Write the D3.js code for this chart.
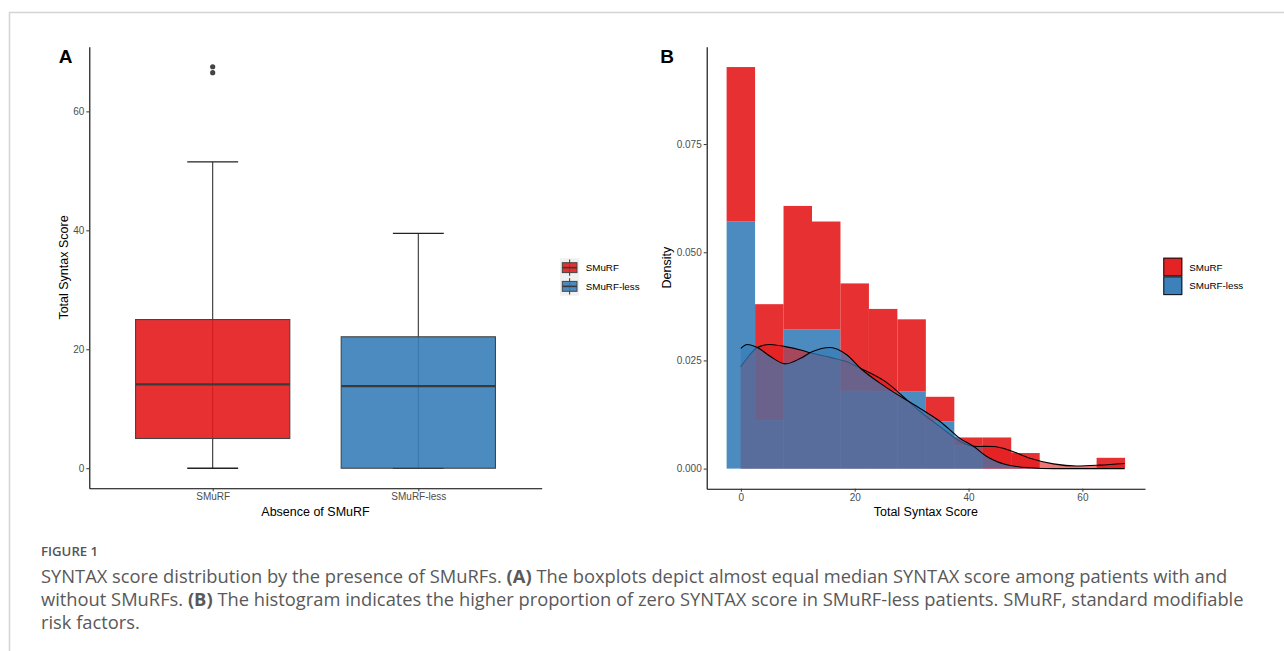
<!DOCTYPE html>
<html>
<head>
<meta charset="utf-8">
<script src="https://cdn.jsdelivr.net/npm/d3@7"></script>
<style>
  body { margin: 0; background: #fff; }
  svg { display: block; }
</style>
</head>
<body>
<svg id="fig" width="1284" height="651"></svg>
<script>
// ---- data ----
const groups = ["SMuRF", "SMuRF-less"];
const groupColors = ["#E41A1C", "#377EB8"];

// panel A boxplot stats
const boxMin = [0, 0];
const boxQ1 = [5.0, 0];
const boxMedian = [14.1, 13.8];
const boxQ3 = [25.0, 22.1];
const boxMax = [51.5, 39.5];
const smurfOutliers = [66.5, 67.5];

// panel B histogram (binwidth 5, stacked, per-group density)
const binMids = [0, 5, 10, 15, 20, 25, 30, 35, 40, 45, 50, 55, 60, 65];
const smurfHist = [0.0357, 0.0268, 0.0285, 0.0249, 0.0248, 0.0191, 0.0167, 0.0057, 0.0018, 0.0072, 0.0036, 0, 0, 0.0025];
const lessHist  = [0.0571, 0.0112, 0.0322, 0.0322, 0.0180, 0.0178, 0.0178, 0.0109, 0.0054, 0, 0, 0, 0, 0];

// panel B density curves
const smurfDensX = [0, 1.5, 2.9, 5.2, 7.8, 10.5, 12.3, 15.7, 18.6, 21.0, 25.4, 29.5, 31.5, 35.0, 39.1, 40.9, 44.4, 47.3, 50.8, 54.9, 59.0, 63.0, 67.4];
const smurfDensY = [0.0236, 0.0262, 0.0280, 0.0287, 0.0282, 0.0274, 0.0267, 0.0257, 0.0247, 0.0232, 0.0201, 0.0155, 0.0132, 0.0097, 0.0059, 0.0052, 0.0051, 0.0042, 0.0024, 0.0011, 0.0006, 0.0008, 0.0012];
const lessDensX = [0, 1.1, 2.9, 5.2, 7.8, 10.5, 12.5, 15.7, 18.6, 21.0, 25.4, 29.5, 31.5, 35.0, 38.5, 40.9, 43.2, 46.7, 50.8, 55.0, 67.4];
const lessDensY = [0.0278, 0.0287, 0.0280, 0.0259, 0.0242, 0.0255, 0.0270, 0.0280, 0.0263, 0.0232, 0.0189, 0.0155, 0.0139, 0.0109, 0.0070, 0.0051, 0.0028, 0.0009, 0.0002, 0.0000, 0.0000];

const scoreTicksA = [0, 20, 40, 60];
const densityTicks = [0, 0.025, 0.05, 0.075];
const scoreTicksB = [0, 20, 40, 60];

const captionLines = [
	[["SYNTAX score distribution by the presence of SMuRFs. ", false], ["(A)", true], [" The boxplots depict almost equal median SYNTAX score among patients with and", false]],
	[["without SMuRFs. ", false], ["(B)", true], [" The histogram indicates the higher proportion of zero SYNTAX score in SMuRF-less patients. SMuRF, standard modifiable", false]],
	[["risk factors.", false]]
];

// ---- setup ----
const FONT = "'Liberation Sans', Arial, sans-serif";
const histAlpha = 0.9;
const densAlpha = [0.6, 0.7];

const $svg = d3.select("#fig");
$svg.append("rect").attr("width", 1284).attr("height", 651).attr("fill", "#fff");

// figure frame
$svg.append("path")
	.attr("d", "M9.5,651V12.5H1284")
	.attr("fill", "none")
	.attr("stroke", "#d4d4d4")
	.attr("stroke-width", 1.5);

const styleAxis = (g) => {
	g.select(".domain").attr("stroke", "#000").attr("stroke-width", 1.1);
	g.selectAll(".tick line").attr("stroke", "#333").attr("stroke-width", 1);
	g.selectAll(".tick text")
		.attr("fill", "#4d4d4d")
		.style("font-family", FONT)
		.style("font-size", "10px");
};

const addText = (x, y, txt, opts = {}) => {
	const t = $svg.append("text")
		.attr("x", x).attr("y", y)
		.attr("text-anchor", opts.anchor || "middle")
		.attr("fill", opts.fill || "#000")
		.style("font-family", opts.family || FONT)
		.style("font-size", (opts.size || 12.5) + "px")
		.style("font-weight", opts.weight || "normal")
		.text(txt);
	if (opts.rotate) t.attr("transform", `rotate(-90,${x},${y})`);
	return t;
};

// ================= Panel A =================
const A = { left: 89.3, right: 541.7, top: 46.7, bottom: 488.3 };

const xA = d3.scalePoint().domain(groups).range([A.left, A.right]).padding(0.6);
const yA = d3.scaleLinear().domain([-3.375, 70.875]).range([A.bottom, A.top]);
const boxW = xA.step() * 0.75;
const capW = boxW * 0.33;

const boxes = groups.map((g, i) => ({
	name: g, color: groupColors[i],
	min: boxMin[i], q1: boxQ1[i], med: boxMedian[i], q3: boxQ3[i], max: boxMax[i]
}));

const $boxes = $svg.append("g").selectAll("g").data(boxes).join("g");

// whisker line through the full range, caps
$boxes.append("line")
	.attr("x1", (d) => xA(d.name)).attr("x2", (d) => xA(d.name))
	.attr("y1", (d) => yA(d.min)).attr("y2", (d) => yA(d.max))
	.attr("stroke", "#333").attr("stroke-width", 1.1);
$boxes.selectAll(".cap").data((d) => [[d.name, d.min], [d.name, d.max]]).join("line")
	.attr("class", "cap")
	.attr("x1", (d) => xA(d[0]) - capW / 2).attr("x2", (d) => xA(d[0]) + capW / 2)
	.attr("y1", (d) => yA(d[1])).attr("y2", (d) => yA(d[1]))
	.attr("stroke", "#222").attr("stroke-width", 1.3);

$boxes.append("rect")
	.attr("x", (d) => xA(d.name) - boxW / 2)
	.attr("width", boxW)
	.attr("y", (d) => yA(d.q3))
	.attr("height", (d) => yA(d.q1) - yA(d.q3))
	.attr("fill", (d) => d.color).attr("fill-opacity", histAlpha)
	.attr("stroke", "#444").attr("stroke-width", 1.1);

$boxes.append("line")
	.attr("x1", (d) => xA(d.name) - boxW / 2).attr("x2", (d) => xA(d.name) + boxW / 2)
	.attr("y1", (d) => yA(d.med)).attr("y2", (d) => yA(d.med))
	.attr("stroke", "#3a3a3a").attr("stroke-width", 2.3);

$svg.append("g").selectAll("circle").data(smurfOutliers).join("circle")
	.attr("cx", xA(groups[0])).attr("cy", (d) => yA(d))
	.attr("r", 2.6).attr("fill", "#444");

$svg.append("g")
	.attr("transform", `translate(${A.left},0)`)
	.call(d3.axisLeft(yA).tickValues(scoreTicksA).tickSize(3).tickSizeOuter(0).tickPadding(2))
	.call(styleAxis);
$svg.append("g")
	.attr("transform", `translate(0,${A.bottom})`)
	.call(d3.axisBottom(xA).tickSize(3).tickSizeOuter(0).tickPadding(2))
	.call(styleAxis);

addText((A.left + A.right) / 2, 515.5, "Absence of SMuRF");
addText(67.5, (A.top + A.bottom) / 2, "Total Syntax Score", { rotate: true });
addText(65.5, 63, "A", { size: 19, weight: "bold" });

// legend A (boxplot keys)
const legA = { x: 560, y: 258.3, key: 18.7 };
$svg.append("rect")
	.attr("x", legA.x).attr("y", legA.y)
	.attr("width", 19.3).attr("height", legA.key * 2)
	.attr("fill", "#f0f0f0");
groups.forEach((g, i) => {
	const ky = legA.y + i * legA.key;
	const cx = legA.x + 9.65;
	$svg.append("line")
		.attr("x1", cx).attr("x2", cx).attr("y1", ky + 1.2).attr("y2", ky + legA.key - 1.2)
		.attr("stroke", "#333").attr("stroke-width", 1);
	$svg.append("rect")
		.attr("x", legA.x + 2.3).attr("y", ky + 4.4)
		.attr("width", 14.7).attr("height", legA.key - 8.8)
		.attr("fill", groupColors[i]).attr("fill-opacity", histAlpha)
		.attr("stroke", "#444").attr("stroke-width", 1);
	$svg.append("line")
		.attr("x1", legA.x + 2.3).attr("x2", legA.x + 17)
		.attr("y1", ky + legA.key / 2).attr("y2", ky + legA.key / 2)
		.attr("stroke", "#3a3a3a").attr("stroke-width", 1.6);
	addText(legA.x + 25.7, ky + legA.key / 2 + 3.5, g, { anchor: "start", size: 9.8 });
});

// ================= Panel B =================
const B = { left: 706.7, right: 1145, top: 46.7, bottom: 488.7 };

const xB = d3.scaleLinear().domain([-6, 71]).range([B.left, B.right]);
const yB = d3.scaleLinear().domain([-0.00464, 0.0975]).range([B.bottom, B.top]);

const histRows = binMids.map((m, i) => ({ mid: m, less: lessHist[i], smurf: smurfHist[i] }));
const stacked = d3.stack().keys(["less", "smurf"])(histRows);
const stackColor = { less: groupColors[1], smurf: groupColors[0] };

$svg.append("g").selectAll("g").data(stacked).join("g")
	.attr("fill", (s) => stackColor[s.key])
	.attr("fill-opacity", histAlpha)
	.selectAll("rect").data((s) => s).join("rect")
	.attr("x", (d) => xB(d.data.mid - 2.5))
	.attr("width", (d) => xB(d.data.mid + 2.5) - xB(d.data.mid - 2.5))
	.attr("y", (d) => yB(d[1]))
	.attr("height", (d) => yB(d[0]) - yB(d[1]));

const densArea = d3.area()
	.x((d) => xB(d[0]))
	.y0(yB(0))
	.y1((d) => yB(d[1]))
	.curve(d3.curveMonotoneX);
const densLine = d3.line()
	.x((d) => xB(d[0]))
	.y((d) => yB(d[1]))
	.curve(d3.curveMonotoneX);

const densities = [
	{ pts: d3.zip(smurfDensX, smurfDensY), color: groupColors[0], alpha: densAlpha[0] },
	{ pts: d3.zip(lessDensX, lessDensY), color: groupColors[1], alpha: densAlpha[1] }
];
densities.forEach((d) => {
	$svg.append("path").attr("d", densArea(d.pts))
		.attr("fill", d.color).attr("fill-opacity", d.alpha);
	$svg.append("path").attr("d", densLine(d.pts))
		.attr("fill", "none").attr("stroke", "#000").attr("stroke-width", 1.1);
});

$svg.append("g")
	.attr("transform", `translate(${B.left},0)`)
	.call(d3.axisLeft(yB).tickValues(densityTicks).tickSize(3).tickSizeOuter(0).tickPadding(2).tickFormat(d3.format(".3f")))
	.call(styleAxis);
$svg.append("g")
	.attr("transform", `translate(0,${B.bottom})`)
	.call(d3.axisBottom(xB).tickValues(scoreTicksB).tickSize(3).tickSizeOuter(0).tickPadding(2))
	.call(styleAxis);

addText((B.left + B.right) / 2, 515.5, "Total Syntax Score");
addText(671.5, (B.top + B.bottom) / 2, "Density", { rotate: true });
addText(667, 63, "B", { size: 19, weight: "bold" });

// legend B (fill keys)
const legB = { x: 1163.3, y: 257.7, key: 18.7 };
groups.forEach((g, i) => {
	const ky = legB.y + i * legB.key;
	$svg.append("rect")
		.attr("x", legB.x).attr("y", ky).attr("width", 19).attr("height", legB.key)
		.attr("fill", groupColors[i]).attr("fill-opacity", histAlpha);
	$svg.append("rect")
		.attr("x", legB.x + 0.5).attr("y", ky + 0.5).attr("width", 18).attr("height", legB.key - 1)
		.attr("fill", groupColors[i]).attr("fill-opacity", densAlpha[i])
		.attr("stroke", "#111").attr("stroke-width", 1);
	addText(legB.x + 26, ky + legB.key / 2 + 3.5, g, { anchor: "start", size: 9.8 });
});

// ================= Caption =================
const CAP_FONT = "'Open Sans', 'Noto Sans', sans-serif";
addText(41, 555.5, "FIGURE 1", { anchor: "start", size: 13.2, weight: 600, fill: "#555", family: CAP_FONT });

const capBase = [583, 606, 629];
const $capLines = captionLines.map((parts, i) => {
	const t = $svg.append("text")
		.attr("x", 41).attr("y", capBase[i])
		.attr("fill", "#595959")
		.style("font-family", CAP_FONT)
		.style("font-size", "17px");
	parts.forEach(([s, bold]) => {
		t.append("tspan").style("font-weight", bold ? 700 : 400).text(s);
	});
	return t;
});
// fit the first line to its width in the figure
const len0 = $capLines[0].node().getComputedTextLength();
const capSize = 17 * 1187 / len0;
$capLines.forEach((t) => t.style("font-size", capSize + "px"));
</script>
</body>
</html>
